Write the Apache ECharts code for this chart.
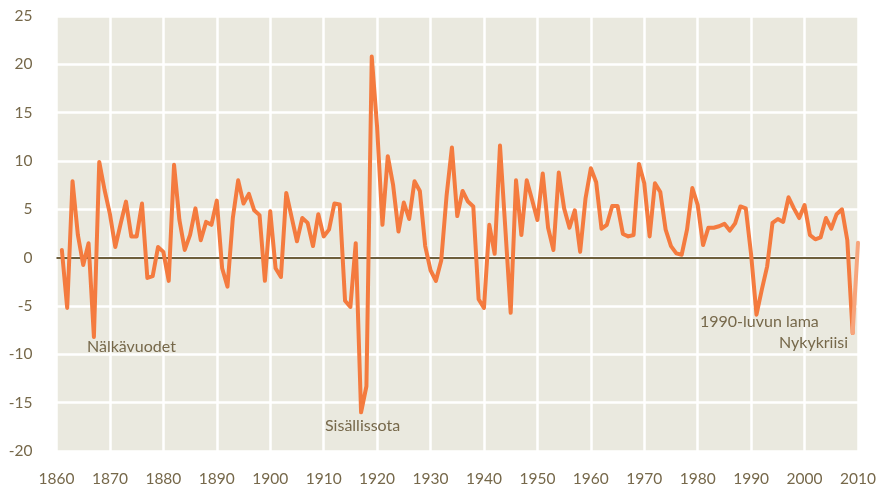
<!DOCTYPE html>
<html>
<head>
<meta charset="utf-8">
<script src="https://cdn.jsdelivr.net/npm/echarts@6/dist/echarts.min.js"></script>
<style>
html,body{margin:0;padding:0;background:#fff;}
#c{width:886px;height:492px;}
</style>
</head>
<body>
<div id="c"></div>
<script>
const years = [];
for (let y = 1861; y <= 2010; y++) years.push(y);
const growth = [
  0.8, -5.2, 7.9, 2.35, -0.76, 1.5, -8.2, 9.9, 7.0,            // 1861-1869
  4.5, 1.1, 3.5, 5.8, 2.2, 2.2, 5.6, -2.1, -1.9, 1.1,           // 1870-1879
  0.6, -2.4, 9.6, 3.9, 0.8, 2.35, 5.1, 1.8, 3.7, 3.4,           // 1880-1889
  5.9, -1.1, -3.0, 4.1, 8.0, 5.6, 6.6, 4.9, 4.4, -2.4,          // 1890-1899
  4.8, -1.1, -2.0, 6.7, 4.2, 1.7, 4.1, 3.6, 1.2, 4.5,           // 1900-1909
  2.2, 2.9, 5.6, 5.5, -4.45, -5.1, 1.5, -16.0, -13.3, 20.8,     // 1910-1919
  13.5, 3.4, 10.5, 7.5, 2.7, 5.7, 4.0, 7.9, 6.9, 1.2,           // 1920-1929
  -1.3, -2.4, -0.3, 6.4, 11.4, 4.3, 6.9, 5.8, 5.3, -4.3,        // 1930-1939
  -5.2, 3.4, 0.4, 11.6, 3.0, -5.7, 8.0, 2.35, 8.0, 6.0,         // 1940-1949
  3.9, 8.7, 3.1, 0.8, 8.8, 5.1, 3.1, 4.9, 0.6, 6.1,             // 1950-1959
  9.25, 7.8, 3.0, 3.4, 5.35, 5.35, 2.45, 2.2, 2.35, 9.7,        // 1960-1969
  7.7, 2.2, 7.7, 6.8, 2.9, 1.2, 0.45, 0.3, 2.9, 7.2,            // 1970-1979
  5.45, 1.3, 3.1, 3.1, 3.25, 3.5, 2.8, 3.55, 5.3, 5.1,          // 1980-1989
  0.3, -5.9, -3.3, -0.9, 3.6, 4.0, 3.7, 6.25, 5.1, 4.1,         // 1990-1999
  5.45, 2.35, 1.9, 2.1, 4.1, 3.0, 4.5, 5.0, 1.8, -7.8,          // 2000-2009
  1.55                                                          // 2010
];
const xTicks = [1860,1870,1880,1890,1900,1910,1920,1930,1940,1950,1960,1970,1980,1990,2000,2010];
const yTicks = [-20,-15,-10,-5,0,5,10,15,20,25];
const annotations = ['Nälkävuodet','Sisällissota','1990-luvun lama','Nykykriisi'];

const nMain = years.indexOf(2009) + 1;
const mainData = years.slice(0, nMain).map((y,i)=>[y, growth[i]]);
const lastData = years.slice(nMain-1).map((y,i)=>[y, growth[nMain-1+i]]);

const txt = '#76684a';
const font = 'Lato, "Noto Sans", sans-serif';
const chart = echarts.init(document.getElementById('c'), null, {renderer:'canvas'});
chart.setOption({
  animation:false,
  backgroundColor:'#ffffff',
  grid:{left:56.5, right:28, top:16, bottom:41, show:true, backgroundColor:'#eae9df', borderWidth:0},
  xAxis:{type:'value', min:xTicks[0], max:xTicks[xTicks.length-1], interval:10,
    axisLine:{show:false}, axisTick:{show:false},
    axisLabel:{color:txt, fontSize:15.5, fontFamily:font, margin:20, showMinLabel:true, showMaxLabel:true,
      formatter:v=>String(v)},
    splitLine:{show:true, lineStyle:{color:'#ffffff', width:2.5}}},
  yAxis:{type:'value', min:yTicks[0], max:yTicks[yTicks.length-1], interval:5,
    axisLine:{show:false}, axisTick:{show:false},
    axisLabel:{color:txt, fontSize:15.5, fontFamily:font, margin:24, align:'right', formatter:v=>String(v)},
    splitLine:{show:true, lineStyle:{color:'#ffffff', width:2.5}}},
  series:[
    {type:'line', data:mainData, showSymbol:false, lineStyle:{color:'#f47b3f', width:4, join:'round', cap:'round'},
     z:3,
     markLine:{silent:true, symbol:'none', label:{show:false},
       lineStyle:{color:'#6e5f3c', width:2, type:'solid'}, data:[{yAxis:0}], z:2}},
    {type:'line', data:lastData, showSymbol:false, lineStyle:{color:'#f7a57c', width:4, cap:'round'}, z:3}
  ],
  graphic:[
    {type:'text', z:100, left:87, top:339, style:{text:annotations[0], fill:txt, font:'16px '+font}},
    {type:'text', z:100, left:325, top:418, style:{text:annotations[1], fill:txt, font:'16px '+font}},
    {type:'text', z:100, left:700, top:314, style:{text:annotations[2], fill:txt, font:'16px '+font}},
    {type:'text', z:100, left:779, top:335, style:{text:annotations[3], fill:txt, font:'16px '+font}}
  ]
});
</script>
</body>
</html>
